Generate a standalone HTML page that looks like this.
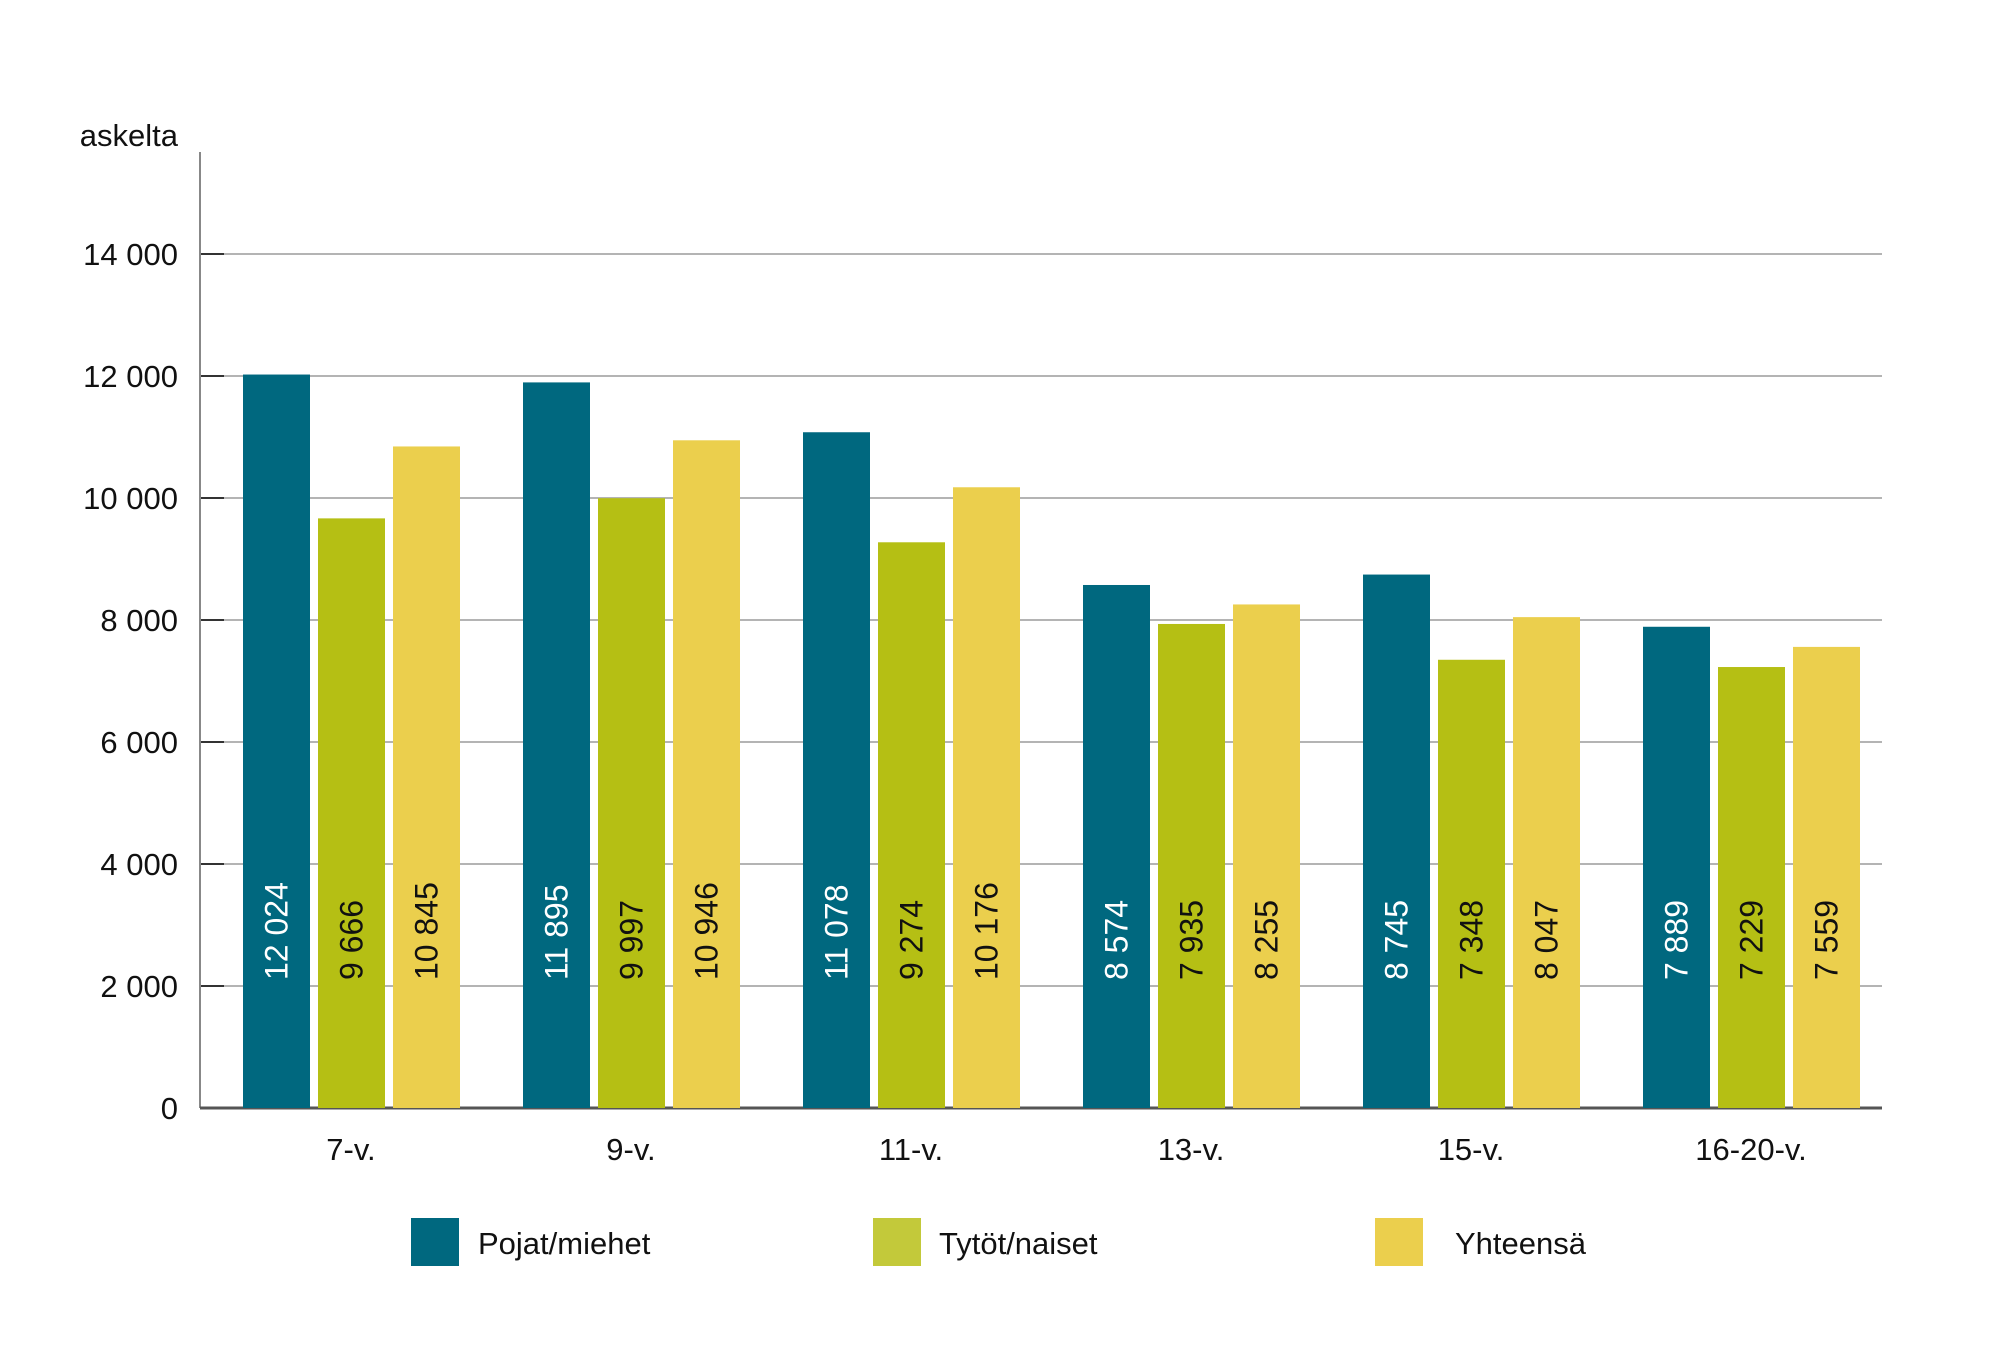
<!DOCTYPE html>
<html><head><meta charset="utf-8"><style>
body{margin:0;background:#fff}
svg text{font-family:"Liberation Sans",sans-serif}
</style></head><body>
<svg id="chart" width="2004" height="1348" viewBox="0 0 2004 1348" xmlns="http://www.w3.org/2000/svg">
<g id="grid"></g><g id="bars"></g><g id="labels"></g><g id="legend"></g>
</svg>
<script>
const categories=["7-v.","9-v.","11-v.","13-v.","15-v.","16-20-v."];
const boys=[12024,11895,11078,8574,8745,7889];
const girls=[9666,9997,9274,7935,7348,7229];
const total=[10845,10946,10176,8255,8047,7559];
const yTicks=[0,2000,4000,6000,8000,10000,12000,14000];
const seriesNames=["Pojat/miehet","Tytöt/naiset","Yhteensä"];
const NS="http://www.w3.org/2000/svg";
const colors=["#00687f","#b5bf14","#ebcf4d"];
const legendColors=["#00687f","#c3c93a","#ebcf4d"];
const x0=200,x1=1882,y0=1108,pxPer=122/2000;
const y=v=>y0-v*pxPer;
const groupX=i=>243+i*280;
const bw=67,bstep=75;
function mk(tag,attrs,parent,text){const e=document.createElementNS(NS,tag);for(const k in attrs)e.setAttribute(k,attrs[k]);if(text!==undefined)e.textContent=text;document.getElementById(parent).appendChild(e);return e;}
const fmt=v=>{const s=String(v);return s.length>3?s.slice(0,-3)+" "+s.slice(-3):s;};
yTicks.forEach(t=>{
  if(t>0){const g=mk("line",{x1:x0,x2:x1,y1:y(t),y2:y(t),stroke:"#b4b4b4","stroke-width":2},"grid");
  
  }
  const tk=mk("line",{x1:x0,x2:224,y1:y(t),y2:y(t),stroke:"#333","stroke-width":2},"grid");
  
  
  const l=mk("text",{x:178,y:y(t)+11,"text-anchor":"end","font-size":31,fill:"#111"},"grid",t===0?"0":fmt(t));
  
  
});
const ax=mk("line",{x1:x0,x2:x0,y1:152,y2:y0,stroke:"#888","stroke-width":2},"grid");


const t=mk("text",{x:178,y:146,"text-anchor":"end","font-size":31,fill:"#111"},"grid","askelta");


const series=[boys,girls,total];
categories.forEach((c,i)=>{
  series.forEach((s,j)=>{
    const bx=groupX(i)+j*bstep;
    const r=mk("rect",{x:bx,y:y(s[i]),width:bw,height:y0-y(s[i]),fill:colors[j]},"bars");
    
    
    const cx=bx+bw/2+11;
    const v=mk("text",{x:cx,y:980,transform:`rotate(-90 ${cx} 980)`,"font-size":32,fill:j===0?"#fff":"#111"},"labels",fmt(s[i]));
    
    
  });
  const cl=mk("text",{x:groupX(i)+108,y:1160,"text-anchor":"middle","font-size":31,fill:"#111"},"labels",c);
  
  
});
const xa=mk("line",{x1:x0,x2:x1,y1:y0,y2:y0,stroke:"#555","stroke-width":3},"grid");


const lx=[411,873,1375],tx=[478,939,1455];
seriesNames.forEach((n,j)=>{
  const r=mk("rect",{x:lx[j],y:1218,width:48,height:48,fill:legendColors[j]},"legend");
  
  
  const l=mk("text",{x:tx[j],y:1254,"font-size":31,fill:"#111"},"legend",n);
  
  
});
</script>
</body></html>
